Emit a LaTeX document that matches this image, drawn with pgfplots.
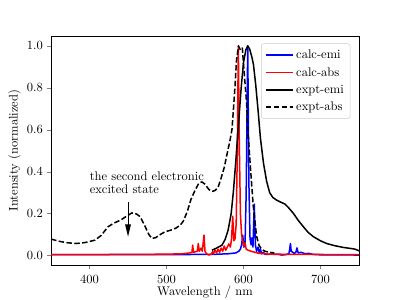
\documentclass[border=0pt]{standalone}
\usepackage{pgfplots}
\pgfplotsset{compat=1.18}
\usetikzlibrary{arrows.meta}
\begin{document}
\begin{tikzpicture}
\useasboundingbox (-40.8pt,-27.2pt) rectangle (278pt,211.8pt);
\begin{axis}[
  at={(0,0)}, anchor=south west,
  width=246pt, height=183pt, scale only axis,
  xmin=350, xmax=750, ymin=-0.046, ymax=1.047,
  xtick={400,500,600,700}, ytick={0,0.2,0.4,0.6,0.8,1.0},
  yticklabel style={/pgf/number format/fixed,/pgf/number format/fixed zerofill,/pgf/number format/precision=1},
  xticklabel style={yshift=-2pt},
  tick pos=left, tick align=outside, major tick length=3pt,
  axis line style={line width=0.7pt},
  xlabel={Wavelength / nm}, ylabel={Intensity (normalized)},
  xlabel style={yshift=5pt},
  ylabel style={yshift=-2pt},
  legend style={at={(0.972,0.968)}, anchor=north east, draw=black!20, rounded corners=2pt,
    fill=white, fill opacity=0.8, text opacity=1, draw opacity=1, font=\normalsize, row sep=1.5pt, inner sep=3pt,
    /tikz/every even column/.append style={column sep=2pt}},
  legend cell align=left,
  legend image code/.code={\draw[#1, draw=.] (0cm,0cm) -- (0.76cm,0cm);},
  every axis plot/.append style={line width=1.2pt, line join=round},
]
% calc-emi
\addplot[blue] coordinates {
(350,0.004) (500,0.004) (560,0.005) (580,0.008) (590,0.012) (594,0.02) (596,0.03)
(597.5,0.05) (599,0.097) (600.5,0.04) (602,0.05) (603.5,0.3) (605.5,1.0) (607,0.35)
(608.5,0.08) (610,0.05) (611,0.084) (612.3,0.04) (614,0.245) (615.5,0.05) (617,0.02)
(619,0.04) (620.5,0.012) (622,0.03) (623.5,0.008) (626,0.015) (628,0.005) (635,0.006)
(645,0.005) (650,0.002) (655,0.004) (659,0.008) (660,0.03) (661,0.057) (662,0.02)
(664,0.015) (666,0.01) (668,0.015) (669.5,0.036) (671,0.012) (675,0.015) (680,0.008)
(685,0.01) (690,0.005) (700,0.003) (750,0.002)
};
\addlegendentry{calc-emi}
% calc-abs
\addplot[red] coordinates {
(350,0.004) (400,0.004) (450,0.005) (500,0.006) (520,0.008) (530,0.012) (533,0.015)
(534,0.049) (535,0.015) (538,0.018) (540,0.02) (541.3,0.057) (542.5,0.02) (545,0.035)
(546.5,0.02) (548.7,0.097) (550,0.02) (552,0.008) (555,0.002) (558,0.006) (560,0.018)
(561,0.008) (563,0.025) (565,0.012) (567,0.03) (569,0.015) (571,0.035) (573,0.02)
(575,0.045) (577,0.025) (579,0.04) (581,0.055) (583,0.04) (584.5,0.08) (586,0.187)
(587.5,0.07) (589,0.08) (590.5,0.15) (592,0.5) (593.3,1.0) (594.5,0.55) (596,0.2)
(597.5,0.1) (599,0.07) (600.5,0.045) (602,0.06) (603.5,0.03) (606,0.025) (610,0.02)
(615,0.015) (620,0.01) (630,0.007) (660,0.005) (750,0.004)
};
\addlegendentry{calc-abs}
% expt-emi
\addplot[black] coordinates {
(559,0.025) (565,0.035) (572,0.049) (576,0.075) (580,0.12) (584,0.2) (587,0.31)
(590,0.45) (593,0.6) (597,0.8) (600,0.92) (603,0.98) (605.5,1.0) (608,0.985)
(611,0.945) (613,0.91) (616,0.81) (619,0.69) (622,0.56) (626,0.44) (630,0.355)
(634,0.3) (638,0.277) (643,0.264) (648,0.255) (654,0.245) (658,0.23) (665,0.2)
(671,0.168) (678,0.136) (684,0.11) (691,0.089) (700,0.07) (708,0.057) (718,0.047)
(730,0.038) (740,0.033) (745,0.03) (750,0.022)
};
\addlegendentry{expt-emi}
% expt-abs
\addplot[black, dash pattern=on 4.4pt off 1.9pt] coordinates {
(350,0.078) (360,0.068) (370,0.061) (383,0.057) (395,0.062) (407,0.073) (415,0.095)
(424,0.137) (432,0.155) (440,0.168) (448,0.187) (455,0.203) (461,0.198) (466,0.184)
(472,0.14) (477,0.1) (481,0.081) (486,0.085) (492,0.1) (498,0.113) (505,0.12)
(512,0.13) (518,0.145) (522,0.165) (527,0.21) (532,0.27) (537,0.31) (542,0.345)
(546,0.351) (550,0.34) (555,0.315) (559,0.305) (563,0.31) (567,0.325) (571,0.37)
(575,0.42) (579,0.49) (582,0.54) (585,0.6) (587,0.7) (589,0.81) (591,0.935)
(593.5,1.0) (596,0.98) (598.5,0.99) (600.5,0.89) (604,0.73) (606,0.58) (609,0.42)
(612.7,0.235) (617,0.092) (620,0.05) (623.6,0.029) (628,0.02) (634,0.015) (640,0.012)
};
\addlegendentry{expt-abs}
\node[anchor=north west, inner sep=0pt, align=left, font=\fontsize{10}{10.2}\selectfont]
  at (axis cs:400,0.40) {the second electronic\\excited state};
\draw[-{Triangle[length=10pt,width=4.5pt]}, line width=0.8pt]
  (axis cs:450,0.254) -- (axis cs:450,0.089);
\end{axis}
\end{tikzpicture}
\end{document}
